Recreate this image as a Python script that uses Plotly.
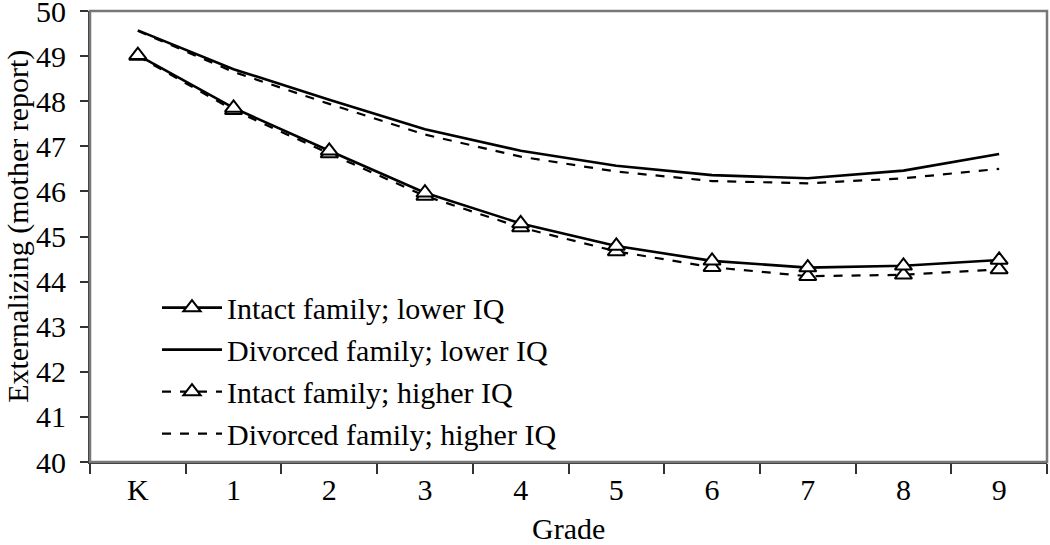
import plotly.graph_objects as go

grades = ["K", "1", "2", "3", "4", "5", "6", "7", "8", "9"]
intact_lower = [49.02, 47.85, 46.90, 45.97, 45.29, 44.79, 44.46, 44.31, 44.35, 44.48]
divorced_lower = [49.57, 48.71, 48.03, 47.38, 46.90, 46.57, 46.36, 46.29, 46.46, 46.83]
intact_higher = [49.00, 47.80, 46.84, 45.90, 45.20, 44.67, 44.32, 44.12, 44.15, 44.27]
divorced_higher = [49.56, 48.65, 47.94, 47.26, 46.77, 46.44, 46.23, 46.18, 46.29, 46.50]
y_ticks = list(range(40, 51))

FONT = "Liberation Serif, Times New Roman, serif"
tri = dict(symbol="triangle-up", size=15, color="white", line=dict(color="black", width=2))

fig = go.Figure()
fig.add_trace(go.Scatter(x=grades, y=divorced_higher, mode="lines", name="Divorced family; higher IQ",
                         line=dict(color="black", width=2.2, dash="dash"), legendrank=4, legendgroup="d"))
fig.add_trace(go.Scatter(x=grades, y=intact_higher, mode="lines+markers", name="Intact family; higher IQ",
                         line=dict(color="black", width=2.2, dash="dash"), marker=tri, legendrank=3, legendgroup="c"))
fig.add_trace(go.Scatter(x=grades, y=divorced_lower, mode="lines", name="Divorced family; lower IQ",
                         line=dict(color="black", width=2.6), legendrank=2, legendgroup="b"))
fig.add_trace(go.Scatter(x=grades, y=intact_lower, mode="lines+markers", name="Intact family; lower IQ",
                         line=dict(color="black", width=2.6), marker=tri, legendrank=1, legendgroup="a"))

fig.update_layout(
    width=1050, height=545,
    margin=dict(l=90, r=3, t=11, b=83),
    paper_bgcolor="white", plot_bgcolor="white",
    font=dict(family=FONT, size=30, color="black"),
    showlegend=True,
    legend=dict(x=0.07, y=0.40, xanchor="left", yanchor="top",
                font=dict(family=FONT, size=30, color="black"),
                bgcolor="rgba(0,0,0,0)", tracegroupgap=0, itemwidth=60),
    xaxis=dict(type="category", range=[-0.5, 9.5], tickson="boundaries", automargin=False,
               ticks="outside", ticklen=10, tickwidth=1.5, tickcolor="#333",
               showline=True, linecolor="#333", linewidth=2, showgrid=False, zeroline=False,
               tickfont=dict(family=FONT, size=30)),
    yaxis=dict(range=[40, 50], tickvals=y_ticks, ticks="outside", ticklen=8, tickwidth=1.5,
               automargin=False, ticklabeloverflow="allow", ticklabelstandoff=8,
               tickcolor="#333", showline=True, linecolor="#333", linewidth=2,
               showgrid=False, zeroline=False, tickfont=dict(family=FONT, size=30)),
    annotations=[
        dict(text="Grade", xref="paper", yref="paper", x=0.5, y=-0.147,
             xanchor="center", yanchor="middle", showarrow=False,
             font=dict(family=FONT, size=30, color="black")),
        dict(text="Externalizing (mother report)", xref="paper", yref="paper",
             x=-0.0755, y=0.523, xanchor="center", yanchor="middle", textangle=-90,
             showarrow=False, font=dict(family=FONT, size=30, color="black")),
    ],
    shapes=[dict(type="rect", xref="paper", yref="paper", x0=0, y0=0, x1=1, y1=1,
                 line=dict(color="#777", width=2.5), layer="above")],
)

fig.write_html("out.html", config={"displayModeBar": False},
               post_script="document.body.style.margin='0px';")
